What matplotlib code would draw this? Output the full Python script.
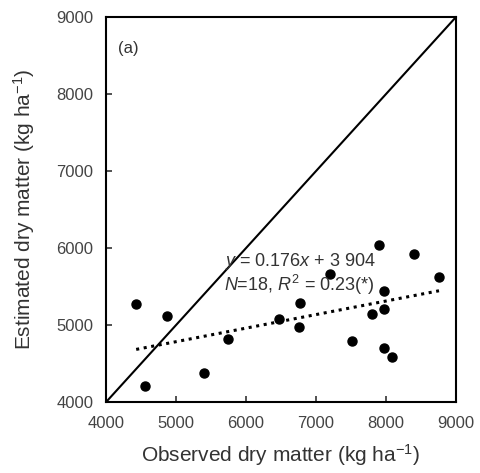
import numpy as np
import matplotlib
matplotlib.use('Agg')
import matplotlib.pyplot as plt

plt.rcParams['font.family'] = ['Liberation Sans', 'DejaVu Sans']
plt.rcParams['mathtext.fontset'] = 'custom'
plt.rcParams['mathtext.rm'] = 'Liberation Sans'
plt.rcParams['mathtext.it'] = 'Liberation Sans:italic'

# observed vs estimated dry matter (kg/ha)
observed = [4430, 4557, 4867, 5405, 5743, 6476, 6757, 6776, 7200,
            7510, 7805, 7905, 7971, 7976, 7976, 8090, 8405, 8757]
estimated = [5277, 4212, 5113, 4373, 4822, 5078, 4974, 5290, 5667,
             4797, 5139, 6039, 5437, 5212, 4701, 4584, 5918, 5619]
slope, intercept = 0.176, 3904
ticks = [4000, 5000, 6000, 7000, 8000, 9000]

fig = plt.figure(figsize=(4.8, 4.73), dpi=100)
ax = fig.add_axes([0.221, 0.150, 0.729, 0.814])

ax.plot([4000, 9000], [4000, 9000], color='black', lw=1.5)
fx = np.array([min(observed), max(observed)])
ax.plot(fx, slope * fx + intercept, color='black', lw=2.2, ls=(0, (1, 1.5)))
ax.plot(observed, estimated, 'o', color='black', ms=6.5)

ax.set_xlim(4000, 9000)
ax.set_ylim(4000, 9000)
ax.set_xticks(ticks)
ax.set_yticks(ticks)
ax.tick_params(direction='in', length=4, width=1.2, labelsize=12, colors='#333333',
               labelcolor='#444444')
ax.tick_params(axis='x', pad=10)
ax.tick_params(axis='y', pad=9)
for s in ax.spines.values():
    s.set_linewidth(1.5)

ax.set_xlabel('Observed dry matter (kg ha$^{-1}$)', fontsize=15, color='#333333', labelpad=8)
ax.set_ylabel('Estimated dry matter (kg ha$^{-1}$)', fontsize=15, color='#333333', labelpad=14)

ax.text(4170, 8590, '(a)', fontsize=12, color='#333333', va='center')
ax.text(5680, 5820, '$y$ = 0.176$x$ + 3 904', fontsize=13, color='#333333', va='center')
ax.text(5680, 5520, '$N$=18, $R^2$ = 0.23(*)', fontsize=13, color='#333333', va='center')

fig.savefig('out.png', dpi=100)
